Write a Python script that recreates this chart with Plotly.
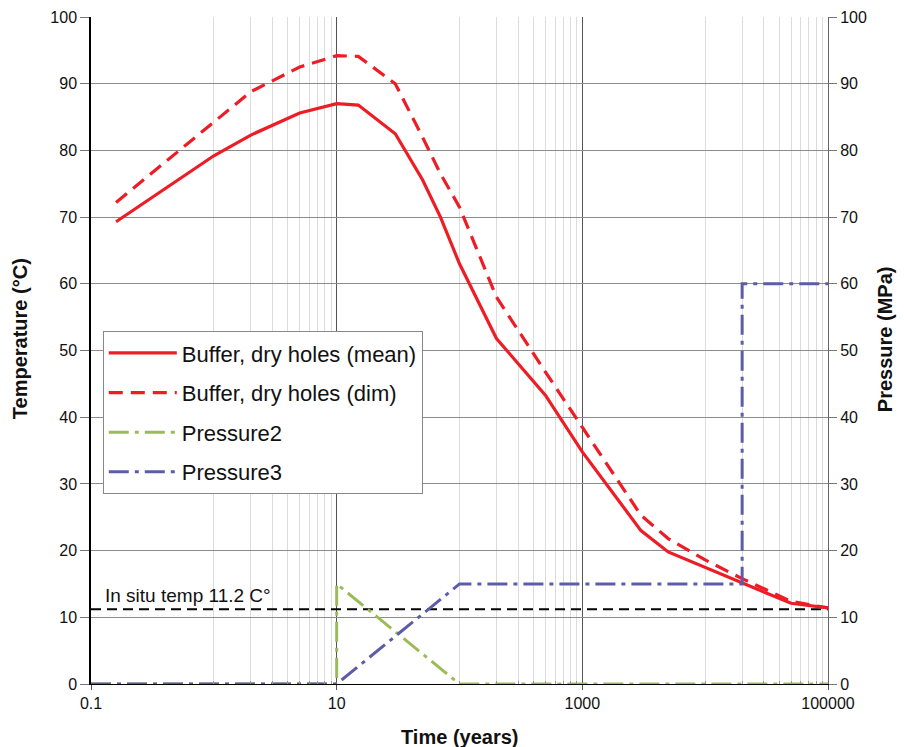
import plotly.graph_objects as go

# ---- data ----
time_mean = [0.16, 0.5, 1, 2, 5, 10, 15, 30, 50, 70, 100, 200, 500, 1000, 3000, 5000, 10000, 20000, 50000, 100000]
temp_mean = [69.3, 75.4, 79.2, 82.3, 85.6, 87.0, 86.8, 82.5, 75.6, 70.0, 63.0, 51.8, 43.3, 34.8, 23.0, 19.8, 17.5, 15.2, 12.1, 11.4]

time_dim = [0.16, 0.5, 1, 2, 5, 10, 15, 30, 50, 70, 100, 200, 500, 1000, 3000, 5000, 10000, 20000, 50000, 100000]
temp_dim = [72.2, 79.7, 84.3, 88.8, 92.5, 94.2, 94.1, 90.0, 82.0, 76.5, 71.5, 58.0, 46.8, 38.5, 25.3, 21.8, 18.6, 15.8, 12.4, 11.4]

time_p2 = [0.1, 10, 10, 100, 100000]
press_p2 = [0, 0, 15, 0, 0]

time_p3 = [0.1, 10, 100, 20000, 20000, 100000]
press_p3 = [0, 0, 15, 15, 60, 60]

insitu_time = [0.1, 100000]
insitu_temp = [11.2, 11.2]

x_tickvals = [0.1, 10, 1000, 100000]
x_ticktext = ["0.1", "10", "1000", "100000"]
y_ticks = [0, 10, 20, 30, 40, 50, 60, 70, 80, 90, 100]

RED = "#ee1c25"
GREEN = "#9bbb59"
PURPLE = "#5c5ca8"
FONT = "Liberation Sans, Arial, sans-serif"

minor_vals = [m * b for b in (0.1, 10, 1000) for m in range(10, 100, 10)]

fig = go.Figure()
fig.add_trace(go.Scatter(x=insitu_time, y=insitu_temp, mode="lines", showlegend=False,
                         line=dict(color="black", width=2, dash="10px,6px"), hoverinfo="skip"))
fig.add_trace(go.Scatter(x=time_mean, y=temp_mean, mode="lines", name="Buffer, dry holes (mean)",
                         legendgroup="a", line=dict(color=RED, width=3.2)))
fig.add_trace(go.Scatter(x=time_dim, y=temp_dim, mode="lines", name="Buffer, dry holes (dim)",
                         legendgroup="b", line=dict(color=RED, width=3.2, dash="14px,8px")))
fig.add_trace(go.Scatter(x=time_p2, y=press_p2, mode="lines", name="Pressure2", yaxis="y2",
                         legendgroup="c", line=dict(color=GREEN, width=3, dash="20px,6px,4px,6px")))
fig.add_trace(go.Scatter(x=time_p3, y=press_p3, mode="lines", name="Pressure3", yaxis="y2",
                         legendgroup="d", line=dict(color=PURPLE, width=3, dash="20px,6px,4px,6px")))

fig.add_annotation(text="In situ temp 11.2 C°", xref="paper", yref="y", x=0.016, y=11.2,
                   xanchor="left", yanchor="bottom", yshift=1, showarrow=False,
                   font=dict(family=FONT, size=19, color="#111"))

title_font = dict(family=FONT, size=20, color="#111")
fig.add_annotation(text="<b>Time (years)</b>", xref="paper", yref="paper", x=0.5, y=-0.0795,
                   xanchor="center", yanchor="middle", showarrow=False, font=title_font)
fig.add_annotation(text="<b>Temperature (°C)</b>", xref="paper", yref="paper", x=-0.0963, y=0.517,
                   xanchor="center", yanchor="middle", textangle=-90, showarrow=False, font=title_font)
fig.add_annotation(text="<b>Pressure (MPa)</b>", xref="paper", yref="paper", x=1.0773, y=0.517,
                   xanchor="center", yanchor="middle", textangle=-90, showarrow=False, font=title_font)

fig.update_layout(
    width=904, height=747,
    margin=dict(l=91, r=76, t=17, b=63, autoexpand=False),
    paper_bgcolor="white", plot_bgcolor="white",
    font=dict(family=FONT, size=16, color="#111"),
    showlegend=True,
    legend=dict(x=0.016, y=0.529, xanchor="left", yanchor="top",
                bordercolor="#888", borderwidth=1, bgcolor="white",
                font=dict(family=FONT, size=22, color="#111"),
                tracegroupgap=8, itemwidth=68),
    xaxis=dict(type="log", range=[-1, 5], tickvals=x_tickvals, ticktext=x_ticktext,
               showgrid=True, gridcolor="#555", gridwidth=1,
               showline=True, linecolor="black", linewidth=1,
               ticks="outside", ticklen=5, tickcolor="#555",
               tickfont=dict(size=16),
               minor=dict(tickvals=minor_vals, showgrid=True, gridcolor="#dcdcdc", gridwidth=1,
                          ticks="inside", ticklen=3, tickcolor="#999"),
               zeroline=False),
    yaxis=dict(range=[0, 100], tickvals=y_ticks, showgrid=True, gridcolor="#8c8c8c", gridwidth=1,
               showline=True, linecolor="black", linewidth=1.5,
               ticks="outside", ticklen=9, tickcolor="#777",
               tickfont=dict(size=16),
               zeroline=False),
    yaxis2=dict(range=[0, 100], tickvals=y_ticks, overlaying="y", side="right",
                showgrid=False, showline=True, linecolor="#666", linewidth=1,
                ticks="outside", ticklen=8, tickcolor="#777",
                tickfont=dict(size=16),
                zeroline=False),
)

fig.write_html("out.html")
